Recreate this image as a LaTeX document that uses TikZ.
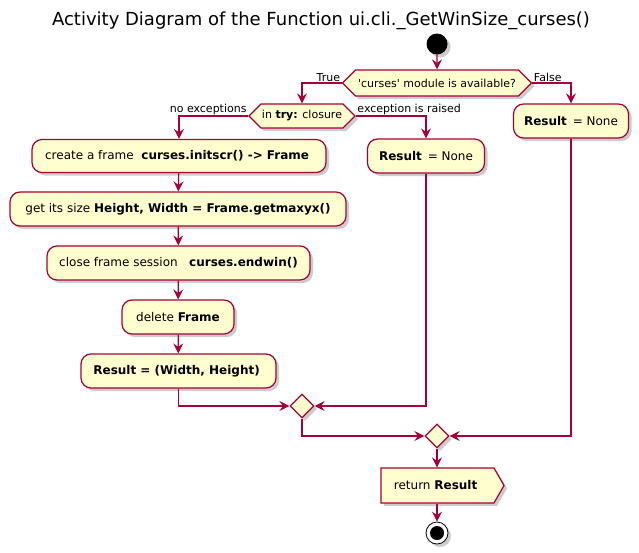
\documentclass[tikz,border=0pt]{standalone}
\usepackage{fontspec}
\setmainfont{DejaVu Sans}
\usetikzlibrary{positioning,arrows.meta,shapes.geometric,shapes.symbols,shadows}
\definecolor{umlfill}{HTML}{FEFECE}
\definecolor{umlline}{HTML}{A80036}

\begin{document}
\begin{tikzpicture}[x=1pt,y=-1pt,font=\fontsize{12}{14}\selectfont,
  >={Stealth[length=10pt,width=10pt,inset=3.5pt]}]
  \tikzset{shade/.style={drop shadow={shadow xshift=3pt,shadow yshift=-3pt,fill=black!40,opacity=.5}},
    act/.style={rectangle,rounded corners=10pt,draw=umlline,fill=umlfill,line width=1.2pt,
      minimum height=34pt,inner sep=0pt,shade},
    cond/.style={signal,signal to=east and west,draw=umlline,fill=umlfill,line width=1.2pt,
      inner xsep=1pt,inner ysep=0pt,font=\fontsize{11}{13}\selectfont,shade},
    merge/.style={diamond,draw=umlline,fill=umlfill,line width=1.2pt,minimum size=24pt,inner sep=0pt,shade},
    flow/.style={->,draw=umlline,line width=1.2pt},
    lbl/.style={font=\fontsize{11}{13}\selectfont,inner sep=1pt}}
  \useasboundingbox (0,0) rectangle (639,552);
  \node[font=\fontsize{18}{21}\selectfont] (title) at (321,21) {Activity Diagram of the Function ui.cli.\_GetWinSize\_curses()};
  \node[circle,fill=black,minimum size=21pt,inner sep=0pt,shade] (start) at (437,44) {};
  \node[cond,minimum height=26pt,minimum width=189pt] (avail) at (437,83) {\textquotesingle curses\textquotesingle\ module is available?};
  \node[cond,minimum height=24pt,minimum width=104pt] (trycl) at (302,116) {in \textbf{try:} closure};
  \node[act,minimum width=115pt] (none2) at (571,121) {\textbf{Result}\, = None};
  \node[act,minimum width=117pt] (none1) at (426,156) {\textbf{Result}\, = None};
  \node[act,minimum width=294pt,minimum height=33pt] (frame) at (179,156) {create a frame\ \ \textbf{curses.initscr() -> Frame}\ \ };
  \node[act,minimum width=336pt] (size) at (178,209) {get its size\ \textbf{Height, Width = Frame.getmaxyx()}};
  \node[act,minimum width=263pt] (endwin) at (178.5,263) {close frame session\ \ \ \textbf{curses.endwin()}};
  \node[act,minimum width=112pt] (delete) at (178,317) {delete\ \textbf{Frame}};
  \node[act,minimum width=195pt] (result) at (178.5,371) {\textbf{Result = (Width, Height)}\ \ };
  \node[merge] (merge1) at (302,406) {};
  \node[merge] (merge2) at (437,436) {};
  \node[signal,signal to=east,signal pointer angle=120,draw=umlline,fill=umlfill,line width=1.2pt,
    minimum height=35pt,minimum width=123pt,inner sep=0pt,shade] (ret) at (437.5,485.5) {return \textbf{Result}\ \ };
  \node[circle,draw=black,line width=.8pt,fill=white,minimum size=22pt,inner sep=0pt,shade,
    path picture={\fill[black] (path picture bounding box.center) circle (7pt);}] (stop) at (437,533) {};
  \draw[flow] (start) -- (avail);
  \draw[flow] (avail.west) -| node[lbl,pos=0,anchor=south east] {True} (trycl.north);
  \draw[flow] (avail.east) -| node[lbl,pos=0,anchor=south west] {False} (none2.north);
  \draw[flow] (trycl.west) -| node[lbl,pos=0,anchor=south east] {no exceptions} (frame.north);
  \draw[flow] (trycl.east) -| node[lbl,pos=0,anchor=south west] {exception is raised} (none1.north);
  \draw[flow] (frame) -- (size);
  \draw[flow] (size) -- (endwin);
  \draw[flow] (endwin) -- (delete);
  \draw[flow] (delete) -- (result);
  \draw[flow] (result.south) |- (merge1.west);
  \draw[flow] (none1.south) |- (merge1.east);
  \draw[flow] (merge1.south) |- (merge2.west);
  \draw[flow] (none2.south) |- (merge2.east);
  \draw[flow] (merge2.south) -- (merge2.south |- ret.north);
  \draw[flow] (ret.south -| stop) -- (stop);
\end{tikzpicture}
\end{document}
